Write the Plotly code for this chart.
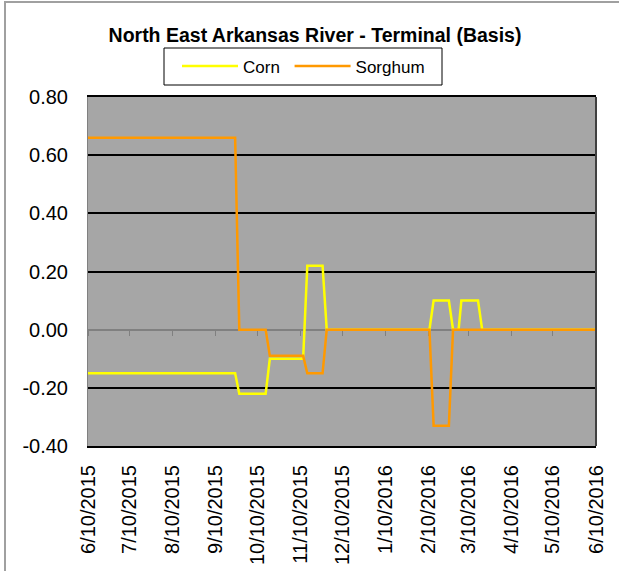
import plotly.graph_objects as go

# ---- data ----
dates = [
    "2015-06-10", "2015-09-24", "2015-09-27", "2015-10-16", "2015-10-19",
    "2015-11-12", "2015-11-15", "2015-11-26", "2015-11-29", "2016-02-11",
    "2016-02-14", "2016-02-25", "2016-02-28", "2016-03-03", "2016-03-05",
    "2016-03-17", "2016-03-20", "2016-06-10",
]
corn = [
    -0.15, -0.15, -0.22, -0.22, -0.10,
    -0.10, 0.22, 0.22, 0.00, 0.00,
    0.10, 0.10, 0.00, 0.00, 0.10,
    0.10, 0.00, 0.00,
]
sorghum = [
    0.66, 0.66, 0.00, 0.00, -0.09,
    -0.09, -0.15, -0.15, 0.00, 0.00,
    -0.33, -0.33, 0.00, 0.00, 0.00,
    0.00, 0.00, 0.00,
]
tick_dates = [
    "2015-06-10", "2015-07-10", "2015-08-10", "2015-09-10", "2015-10-10",
    "2015-11-10", "2015-12-10", "2016-01-10", "2016-02-10", "2016-03-10",
    "2016-04-10", "2016-05-10", "2016-06-10",
]
tick_labels = [
    "6/10/2015", "7/10/2015", "8/10/2015", "9/10/2015", "10/10/2015",
    "11/10/2015", "12/10/2015", "1/10/2016", "2/10/2016", "3/10/2016",
    "4/10/2016", "5/10/2016", "6/10/2016",
]
y_ticks = [-0.4, -0.2, 0.0, 0.2, 0.4, 0.6, 0.8]
y_labels = ["-0.40", "-0.20", "0.00", "0.20", "0.40", "0.60", "0.80"]

FONT = "Liberation Sans, Arial, sans-serif"

fig = go.Figure()
fig.add_trace(go.Scatter(x=dates, y=corn, mode="lines", name="Corn\u00a0",
                         line=dict(color="#FFFF00", width=2.5)))
fig.add_trace(go.Scatter(x=dates, y=sorghum, mode="lines", name="Sorghum",
                         line=dict(color="#FF9900", width=2.5)))
# invisible trace to activate the zero-crossing tick axis
fig.add_trace(go.Scatter(x=[dates[0]], y=[0], xaxis="x2", mode="lines",
                         showlegend=False, hoverinfo="skip",
                         line=dict(width=0)))

W, H = 619, 571
L, R, T, B = 88, 23, 97, 125
pw = W - L - R
ph = H - T - B


def px_x(p):
    return (p - L) / pw


def px_y(p):
    return 1 + (T - p) / ph


fig.update_layout(
    width=W, height=H,
    margin=dict(l=L, r=R, t=T, b=B, autoexpand=False),
    paper_bgcolor="white",
    plot_bgcolor="#A6A6A6",
    font=dict(family=FONT, size=20, color="black"),
    title=dict(text="<b>North East Arkansas River - Terminal (Basis)</b>",
               x=315 / W, xref="container", xanchor="center",
               y=1 - 35 / H, yref="container", yanchor="middle",
               font=dict(family=FONT, size=19.5, color="black")),
    showlegend=True,
    legend=dict(orientation="h", x=px_x(177), xanchor="left",
                y=px_y(66.5), yanchor="middle",
                borderwidth=0, bgcolor="rgba(0,0,0,0)",
                font=dict(family=FONT, size=17), itemwidth=56,
                traceorder="normal"),
    xaxis=dict(type="date", range=[tick_dates[0], tick_dates[-1]],
               tickmode="array", tickvals=tick_dates, ticktext=tick_labels,
               tickangle=-90, ticks="", showgrid=False, zeroline=False,
               showline=True, mirror=True, linecolor="black", linewidth=2,
               ticklabelstandoff=9,
               tickfont=dict(family=FONT, size=20)),
    xaxis2=dict(type="date", overlaying="x", matches="x", anchor="free",
                position=(0 - y_ticks[0]) / (y_ticks[-1] - y_ticks[0]),
                tickmode="array", tickvals=tick_dates, showticklabels=False,
                ticks="outside", ticklen=5, tickcolor="#808080", tickwidth=1,
                showline=True, linecolor="#808080", linewidth=2,
                showgrid=False, zeroline=False, layer="below traces"),
    yaxis=dict(range=[y_ticks[0], y_ticks[-1]], tickmode="array",
               tickvals=y_ticks, ticktext=y_labels, ticks="",
               showgrid=True, gridcolor="black", gridwidth=1.5,
               zeroline=True, zerolinecolor="#808080", zerolinewidth=2,
               showline=True, linecolor="#808080", linewidth=1,
               ticklabelstandoff=15,
               tickfont=dict(family=FONT, size=20)),
    shapes=[
        dict(type="line", xref="paper", yref="paper", x0=1, x1=1, y0=0, y1=1,
             line=dict(color="#404040", width=2)),
        # legend frame
        dict(type="rect", xref="paper", yref="paper",
             x0=px_x(164), x1=px_x(442), y0=px_y(85), y1=px_y(48),
             line=dict(color="black", width=1), fillcolor="white",
             layer="below"),
        # chart frame
        dict(type="rect", xref="paper", yref="paper",
             x0=px_x(5), x1=2.0, y0=-2.0, y1=px_y(2),
             line=dict(color="#A0A0A0", width=2), fillcolor="rgba(0,0,0,0)",
             layer="above"),
    ],
)

fig.write_html("out.html",
               config={"displayModeBar": False},
               post_script="document.body.style.margin='0px';"
                           "document.body.style.overflow='hidden';")
